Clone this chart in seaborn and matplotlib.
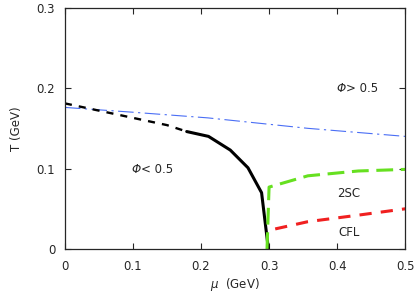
import matplotlib
matplotlib.use("Agg")
import matplotlib.pyplot as plt
import seaborn as sns
import pandas as pd

# phase boundaries (mu in GeV, T in GeV)
mu_crossover = [0.0, 0.05, 0.10, 0.15, 0.179]
T_crossover = [0.181, 0.172, 0.163, 0.154, 0.146]

mu_first = [0.179, 0.211, 0.243, 0.269, 0.289, 0.299]
T_first = [0.146, 0.140, 0.123, 0.101, 0.070, 0.0]

mu_deconf = [0.0, 0.10, 0.21, 0.357, 0.5]
T_deconf = [0.176, 0.170, 0.163, 0.150, 0.140]

mu_2sc = [0.297, 0.300, 0.357, 0.431, 0.5]
T_2sc = [0.0, 0.077, 0.091, 0.097, 0.099]

mu_cfl = [0.309, 0.357, 0.430, 0.5]
T_cfl = [0.025, 0.034, 0.042, 0.050]

sns.set_style("ticks")
plt.rcParams["font.family"] = ["DejaVu Sans"]
plt.rcParams["mathtext.fontset"] = "dejavusans"

fig = plt.figure(figsize=(4.16, 2.93), dpi=100)
ax = fig.add_axes([0.156, 0.150, 0.818, 0.824])

sns.lineplot(data=pd.DataFrame({"mu": mu_deconf, "T": T_deconf}), x="mu", y="T",
             ax=ax, color="#4a6ef5", lw=0.8, sort=False)
ax.lines[-1].set_dashes([14, 4, 2, 4])
sns.lineplot(data=pd.DataFrame({"mu": mu_crossover, "T": T_crossover}), x="mu", y="T",
             ax=ax, color="black", lw=1.7, sort=False)
ax.lines[-1].set_dashes([3, 3])
sns.lineplot(data=pd.DataFrame({"mu": mu_first, "T": T_first}), x="mu", y="T",
             ax=ax, color="black", lw=2.2, sort=False)
sns.lineplot(data=pd.DataFrame({"mu": mu_2sc, "T": T_2sc}), x="mu", y="T",
             ax=ax, color="#66e020", lw=2.2, sort=False)
ax.lines[-1].set_dashes([5.5, 2.5])
sns.lineplot(data=pd.DataFrame({"mu": mu_cfl, "T": T_cfl}), x="mu", y="T",
             ax=ax, color="#f02020", lw=2.2, sort=False)
ax.lines[-1].set_dashes([4, 3])

fs = 8.5
# italic Phi, then the rest of the label
for x0, y0, rest in [(0.413, 0.2, "> 0.5"), (0.112, 0.099, "< 0.5")]:
    ax.text(x0, y0, "Φ", fontsize=fs, style="italic", ha="right", va="center")
    ax.text(x0, y0, rest, fontsize=fs, ha="left", va="center")
ax.text(0.417, 0.069, "2SC", fontsize=fs, ha="center", va="center")
ax.text(0.417, 0.021, "CFL", fontsize=fs, ha="center", va="center")

ax.set_xlim(0, 0.5)
ax.set_ylim(0, 0.3)
ax.set_xticks([0, 0.1, 0.2, 0.3, 0.4, 0.5])
ax.set_xticklabels(["0", "0.1", "0.2", "0.3", "0.4", "0.5"])
ax.set_yticks([0, 0.1, 0.2, 0.3])
ax.set_yticklabels(["0", "0.1", "0.2", "0.3"])
ax.tick_params(axis="x", direction="in", length=4, width=0.8, labelsize=fs,
               top=True, pad=8)
ax.tick_params(axis="y", direction="in", length=4, width=0.8, labelsize=fs,
               right=True, pad=7)
for s in ax.spines.values():
    s.set_visible(True)
    s.set_linewidth(0.9)
ax.set_xlabel(r"$\mathit{\mu}$  (GeV)", fontsize=fs, labelpad=2)
ax.set_ylabel("T (GeV)", fontsize=fs, labelpad=10)

fig.savefig("out.png", dpi=100)
